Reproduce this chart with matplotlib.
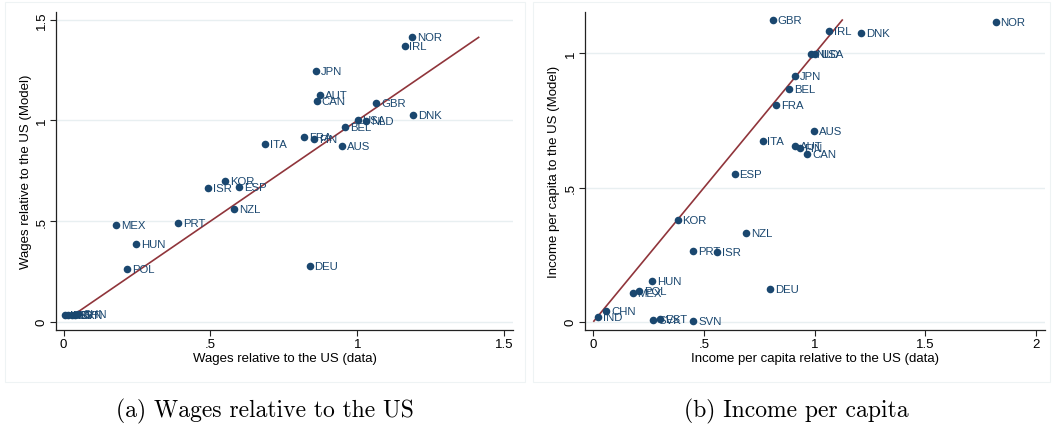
import matplotlib
matplotlib.use("Agg")
import matplotlib.pyplot as plt
from matplotlib.patches import Rectangle

# ---- Data: panel (a) wages ----
wage_countries = ["NOR", "IRL", "JPN", "AUT", "CAN", "GBR", "DNK", "USA", "NLD", "BEL",
                  "FRA", "FIN", "AUS", "ITA", "KOR", "ISR", "ESP", "NZL", "MEX", "PRT",
                  "HUN", "POL", "DEU", "IND", "SVK", "EST", "SVN", "CHN"]
wage_data = [1.186, 1.161, 0.859, 0.874, 0.861, 1.064, 1.191, 1.001, 1.031, 0.959,
             0.818, 0.852, 0.947, 0.685, 0.549, 0.492, 0.598, 0.580, 0.178, 0.390,
             0.247, 0.216, 0.838, 0.004, 0.015, 0.030, 0.038, 0.048]
wage_model = [1.413, 1.371, 1.244, 1.129, 1.098, 1.088, 1.027, 1.000, 0.995, 0.968,
              0.920, 0.907, 0.874, 0.884, 0.701, 0.667, 0.668, 0.559, 0.481, 0.489,
              0.386, 0.260, 0.277, 0.033, 0.036, 0.032, 0.034, 0.040]

# ---- Data: panel (b) income per capita ----
inc_countries = ["GBR", "NOR", "IRL", "DNK", "NLD", "USA", "JPN", "BEL", "FRA", "AUS",
                 "ITA", "AUT", "FIN", "CAN", "ESP", "KOR", "NZL", "PRT", "ISR", "HUN",
                 "POL", "MEX", "DEU", "CHN", "IND", "SVK", "EST", "SVN"]
inc_data = [0.811, 1.817, 1.066, 1.208, 0.985, 1.000, 0.910, 0.884, 0.827, 0.997,
            0.764, 0.910, 0.932, 0.967, 0.638, 0.380, 0.690, 0.451, 0.559, 0.266,
            0.205, 0.177, 0.798, 0.057, 0.020, 0.271, 0.302, 0.451]
inc_model = [1.124, 1.118, 1.085, 1.076, 0.999, 0.999, 0.915, 0.868, 0.807, 0.710,
             0.673, 0.653, 0.649, 0.623, 0.550, 0.378, 0.330, 0.262, 0.259, 0.152,
             0.116, 0.107, 0.121, 0.041, 0.019, 0.005, 0.009, 0.002]

xticks_a = [0, 0.5, 1, 1.5]
yticks_a = [0, 0.5, 1, 1.5]
xticks_b = [0, 0.5, 1, 1.5, 2]
yticks_b = [0, 0.5, 1]

def fmt(v):
    s = f"{v:g}"
    if s.startswith("0."):
        s = s[1:]
    return s

NAVY = "#1a476f"
MAROON = "#90353b"
GRID = "#e8eff1"

plt.rcParams['font.family'] = ['Liberation Sans', 'DejaVu Sans']

fig = plt.figure(figsize=(10.55, 4.27), dpi=100)

# faint graph-region borders
fig.patches.append(Rectangle((5/1055, (427-383)/427), 520/1055, 380/427,
                             transform=fig.transFigure, fill=False,
                             edgecolor="#eef3f4", lw=0.8))
fig.patches.append(Rectangle((533/1055, (427-383)/427), 517/1055, 380/427,
                             transform=fig.transFigure, fill=False,
                             edgecolor="#eef3f4", lw=0.8))

def panel(rect, xs, ys, names, xt, yt, xlim, ylim, xlabel, ylabel, caption, capx):
    ax = fig.add_axes(rect)
    ax.set_xlim(*xlim)
    ax.set_ylim(*ylim)
    for y in yt:
        ax.axhline(y, color=GRID, lw=1.0, zorder=0)
    lo, hi = min(ys), max(ys)
    ax.plot([lo, hi], [lo, hi], color=MAROON, lw=1.2, zorder=2)
    ax.scatter(xs, ys, s=30, color=NAVY, zorder=3, linewidths=0)
    for x, y, n in zip(xs, ys, names):
        ax.annotate(n, (x, y), xytext=(3.5, 0), textcoords="offset points",
                    va="center", ha="left", fontsize=8.2, color=NAVY, zorder=4)
    ax.set_xticks(xt)
    ax.set_xticklabels([fmt(v) for v in xt], fontsize=9.5)
    ax.set_yticks(yt)
    ax.set_yticklabels([fmt(v) for v in yt], fontsize=9.5, rotation=90, va="center")
    ax.tick_params(direction="out", length=4, width=0.8, color="#222222", pad=2)
    for s in ["top", "right"]:
        ax.spines[s].set_visible(False)
    for s in ["left", "bottom"]:
        ax.spines[s].set_linewidth(0.9)
        ax.spines[s].set_color("#222222")
    ax.set_xlabel(xlabel, fontsize=9.5, labelpad=1)
    ax.set_ylabel(ylabel, fontsize=9.5, labelpad=3)
    fig.text(capx, 1 - 411/427, caption, ha="center", va="center",
             fontsize=17, family="cmr10")
    return ax

panel([56/1055, (427-331)/427, 457/1055, 318/427],
      wage_data, wage_model, wage_countries, xticks_a, yticks_a,
      (-0.026, 1.53), (-0.041, 1.539),
      "Wages relative to the US (data)", "Wages relative to the US (Model)",
      "(a) Wages relative to the US", 265/1055)

panel([585/1055, (427-331)/427, 460/1055, 318/427],
      inc_data, inc_model, inc_countries, xticks_b, yticks_b,
      (-0.038, 2.04), (-0.031, 1.154),
      "Income per capita relative to the US (data)", "Income per capita to the US (Model)",
      "(b) Income per capita", 796/1055)

fig.savefig("out.png", dpi=100)
